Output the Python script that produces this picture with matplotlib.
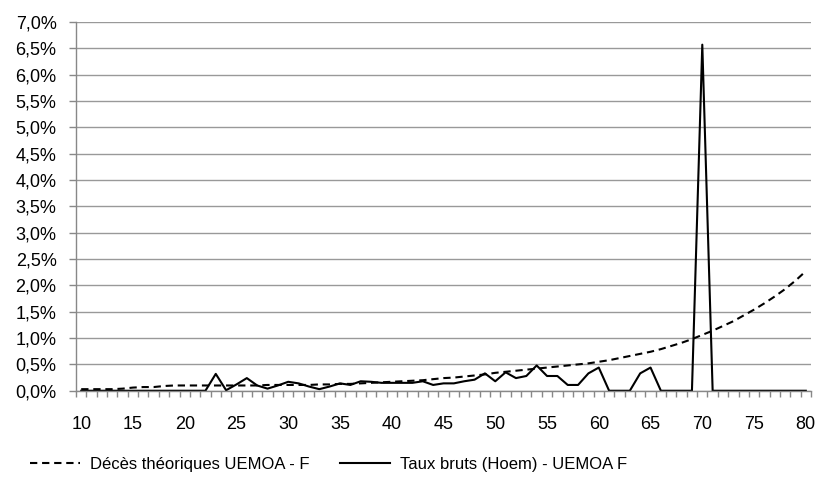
import matplotlib
matplotlib.use("Agg")
import matplotlib.pyplot as plt
from matplotlib.ticker import FixedLocator, FuncFormatter

plt.rcParams['font.family'] = ['Liberation Sans', 'DejaVu Sans']

## Data (rates in %)
ages = list(range(10, 81))

theoretical = [0.03, 0.03, 0.03, 0.03, 0.04, 0.06, 0.07, 0.07, 0.09, 0.10,
               0.10, 0.10, 0.10, 0.10, 0.10, 0.10, 0.10, 0.10, 0.11, 0.11,
               0.11, 0.11, 0.11, 0.12, 0.12, 0.13, 0.13, 0.14, 0.15, 0.16,
               0.17, 0.18, 0.19, 0.20, 0.22, 0.24, 0.25, 0.27, 0.29, 0.31,
               0.34, 0.36, 0.38, 0.40, 0.42, 0.44, 0.46, 0.48, 0.50, 0.52,
               0.55, 0.58, 0.62, 0.66, 0.70, 0.74, 0.79, 0.85, 0.91, 0.98,
               1.06, 1.14, 1.23, 1.32, 1.43, 1.54, 1.66, 1.79, 1.93, 2.09,
               2.27]

raw_rates = [0.00, 0.00, 0.00, 0.00, 0.00, 0.00, 0.00, 0.00, 0.00, 0.00,
             0.00, 0.00, 0.00, 0.32, 0.01, 0.12, 0.24, 0.10, 0.04, 0.10,
             0.17, 0.14, 0.08, 0.03, 0.08, 0.14, 0.11, 0.18, 0.17, 0.15,
             0.15, 0.15, 0.15, 0.18, 0.11, 0.14, 0.14, 0.18, 0.21, 0.33,
             0.18, 0.35, 0.24, 0.28, 0.48, 0.28, 0.28, 0.11, 0.11, 0.33,
             0.44, 0.00, 0.00, 0.00, 0.33, 0.44, 0.00, 0.00, 0.00, 0.00,
             6.57, 0.00, 0.00, 0.00, 0.00, 0.00, 0.00, 0.00, 0.00, 0.00,
             0.00]

yticks = [i * 0.5 for i in range(15)]
xlabels = list(range(10, 81, 5))

## Plot
fig = plt.figure(figsize=(8.21, 4.86), dpi=100)
ax = fig.add_axes([0.0926, 0.196, 0.8952, 0.7587])

ax.plot(ages, theoretical, color='black', lw=1.5, dashes=(3.5, 2.3),
        label="Décès théoriques UEMOA - F")
ax.plot(ages, raw_rates, color='black', lw=1.5,
        label="Taux bruts (Hoem) - UEMOA F")

ax.set_xlim(9.5, 80.5)
ax.set_ylim(0, 7.0)

# gridlines and axes in Excel grey
ax.set_yticks(yticks)
ax.yaxis.set_major_formatter(FuncFormatter(lambda v, p: ("%.1f%%" % v).replace(".", ",")))
ax.grid(axis='y', color='#999999', lw=1)
ax.set_axisbelow(True)

ax.set_xticks(xlabels)
ax.xaxis.set_minor_locator(FixedLocator([a - 0.5 for a in ages] + [80.5]))
ax.tick_params(axis='x', which='major', length=0, pad=18, labelsize=13)
ax.tick_params(axis='x', which='minor', length=4, color='#888888', width=1)
ax.tick_params(axis='y', length=5, color='#888888', width=1, pad=9, labelsize=13)

for side in ['top', 'right']:
    ax.spines[side].set_visible(False)
for side in ['left', 'bottom']:
    ax.spines[side].set_color('#888888')
    ax.spines[side].set_linewidth(1)

fig.legend(loc='center', bbox_to_anchor=(0.40, 0.045), ncol=2, frameon=False,
           fontsize=12, handlelength=3.0, columnspacing=1.8, handletextpad=0.6)

fig.savefig("out.png", dpi=100)
